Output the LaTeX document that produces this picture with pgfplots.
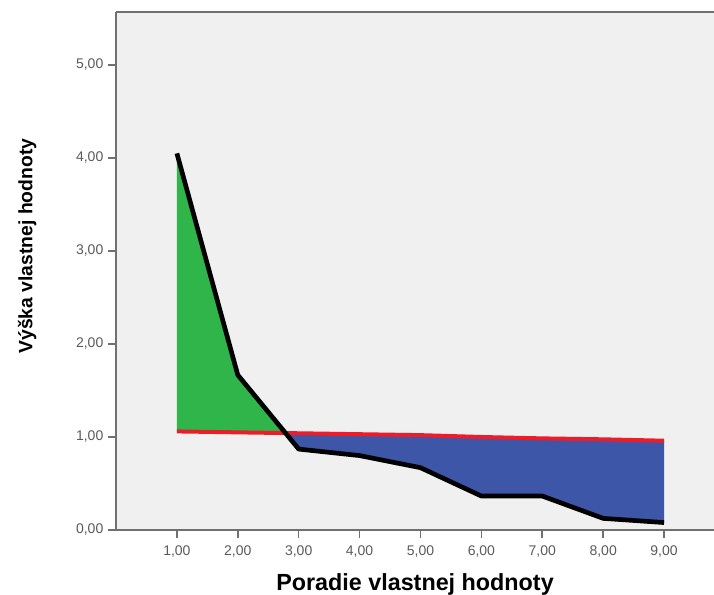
\documentclass[border=0pt]{standalone}
\usepackage{fontspec}
\setmainfont{Liberation Sans}
\usepackage{pgfplots}
\pgfplotsset{compat=1.18}
\definecolor{bggray}{HTML}{F0F0F0}
\definecolor{spssgreen}{HTML}{30B54B}
\definecolor{spssblue}{HTML}{3D56A8}
\definecolor{spssred}{HTML}{EC1C2A}
\definecolor{ticktext}{HTML}{5A5A5A}
\definecolor{axisgray}{HTML}{707070}
\begin{document}
\begin{tikzpicture}
\begin{axis}[
    scale only axis,
    width=448.5pt, height=388.5pt,
    xmin=0, xmax=9.82, ymin=0, ymax=5.57,
    axis x line=bottom, axis y line=left,
    axis line style={draw=axisgray, line width=1.5pt, -},
    axis background/.style={fill=bggray},
    xtick={1,...,9},
    xticklabels={{1,00},{2,00},{3,00},{4,00},{5,00},{6,00},{7,00},{8,00},{9,00}},
    ytick={0,...,5},
    yticklabels={{0,00},{1,00},{2,00},{3,00},{4,00},{5,00}},
    tick align=outside, major tick length=6pt,
    tick style={draw=axisgray, line width=1.2pt},
    tick label style={font=\fontsize{10.5}{12}\selectfont, text=ticktext},
    xticklabel style={yshift=-2pt},
    /pgf/number format/assume math mode=true,
    xlabel={Poradie vlastnej hodnoty},
    ylabel={Výška vlastnej hodnoty},
    every axis x label/.style={at={(axis description cs:0.5,-0.105)}, anchor=center, font=\bfseries\fontsize{17.5}{20}\selectfont},
    every axis y label/.style={at={(axis description cs:-0.1485,0.548)}, anchor=center, rotate=90, font=\bfseries\fontsize{14.5}{18}\selectfont},
    clip=false,
]
% green area: eigenvalues above the parallel-analysis line
\addplot[fill=spssgreen, draw=none] coordinates {
    (1,4.05)(2,1.667)(2.79,1.042)(2,1.05)(1,1.06)
} -- cycle;
% blue area: eigenvalues below it
\addplot[fill=spssblue, draw=none] coordinates {
    (2.79,1.042)(3,0.87)(4,0.80)(5,0.67)(6,0.365)(7,0.365)(8,0.125)(9,0.08)
    (9,0.96)(8,0.975)(7,0.985)(6,1.00)(5,1.02)(4,1.03)(3,1.04)
} -- cycle;
% random eigenvalues (red)
\addplot[spssred, line width=3pt] coordinates {
    (1,1.06)(2,1.05)(3,1.04)(4,1.03)(5,1.02)(6,1.00)(7,0.985)(8,0.975)(9,0.96)
};
% observed eigenvalues (black)
\addplot[black, line width=3.5pt, line join=round] coordinates {
    (1,4.05)(2,1.667)(3,0.87)(4,0.80)(5,0.67)(6,0.365)(7,0.365)(8,0.125)(9,0.08)
};
\draw[axisgray, line width=1.5pt] (rel axis cs:0,1) -- (rel axis cs:1,1);
\end{axis}
\pgfresetboundingbox
\path[use as bounding box] (-87pt,-48.75pt) rectangle (448.5pt,397.5pt);
\end{tikzpicture}
\end{document}
